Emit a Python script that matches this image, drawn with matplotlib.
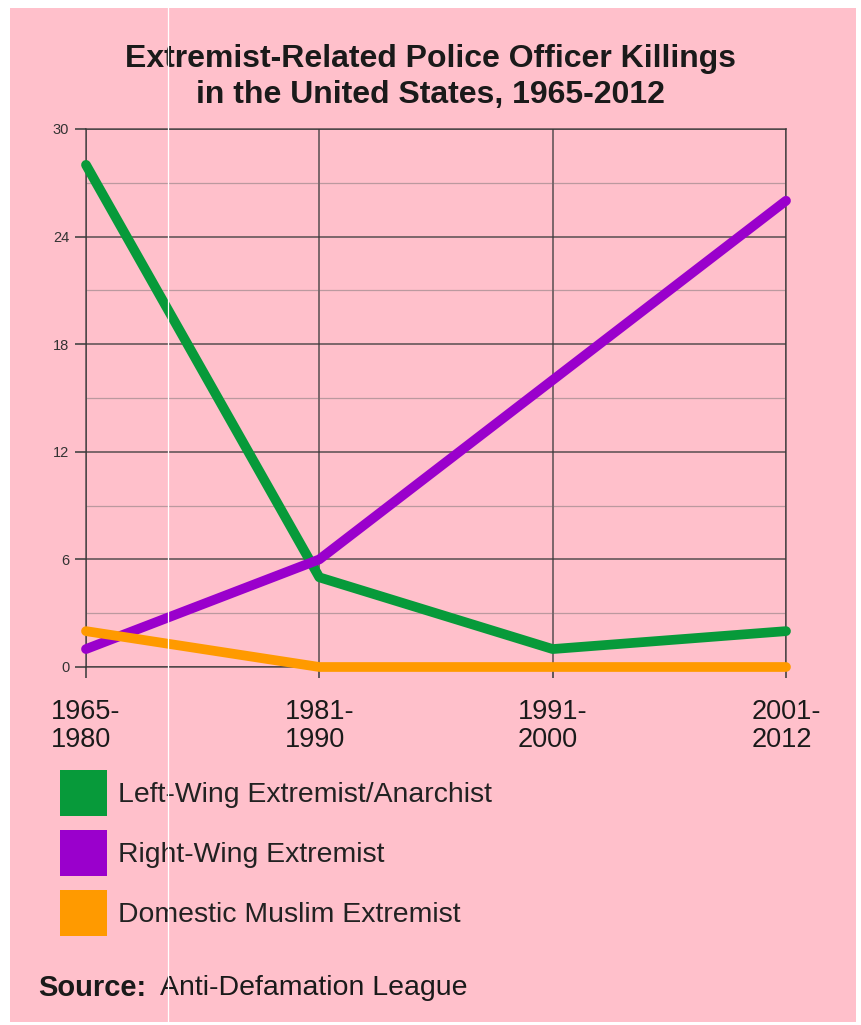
import matplotlib
matplotlib.use("Agg")
import matplotlib.pyplot as plt
from matplotlib.patches import Rectangle, Patch
from matplotlib.lines import Line2D
from matplotlib.ticker import MultipleLocator

periods = ["1965-\n1980", "1981-\n1990", "1991-\n2000", "2001-\n2012"]
left_wing = [28, 5, 1, 2]
right_wing = [1, 6, 16, 26]
muslim = [2, 0, 0, 0]
series_names = ["Left-Wing Extremist/Anarchist", "Right-Wing Extremist",
                "Domestic Muslim Extremist"]
series_colors = ["#079A3A", "#9A00CC", "#FF9A00"]
y_ticks = [0, 6, 12, 18, 24, 30]

plt.rcParams['font.family'] = ['Liberation Sans', 'DejaVu Sans']

fig = plt.figure(figsize=(8.61, 10.25), dpi=100)
fig.patch.set_facecolor('white')
# pink panel
W, H = 861, 1025
fig.add_artist(Rectangle((10 / W, 1 - 1022 / H), 846 / W, 1014 / H,
                         transform=fig.transFigure, facecolor='#FFC0CB',
                         edgecolor='none', zorder=0))

ax = fig.add_axes([86 / W, 1 - 667 / H, 700 / W, 538 / H])
ax.set_facecolor('none')

x = list(range(len(periods)))
for vals, name, col in zip([left_wing, right_wing, muslim], series_names, series_colors):
    ax.plot(x, vals, color=col, lw=7, solid_capstyle='round',
            solid_joinstyle='round', zorder=3, label=name, clip_on=False)

ax.set_xlim(0, 3)
ax.set_ylim(0, 30)
ax.set_yticks(y_ticks)
ax.yaxis.set_minor_locator(MultipleLocator(3))
ax.set_xticks(x)
ax.set_xticklabels(periods, fontsize=19.5, color='#1a1a1a', multialignment='left',
                   linespacing=1.1)
ax.tick_params(axis='y', labelsize=10.5, colors='#444444', length=8, width=1.2, pad=4)
ax.tick_params(axis='y', which='minor', length=0)
ax.tick_params(axis='x', length=8, width=1.2, color='#444444', pad=15)
for lbl in ax.get_yticklabels():
    lbl.set_color('#333333')

ax.grid(True, which='major', color='#3a3a3a', lw=1.1, alpha=0.85, zorder=1)
ax.grid(True, which='minor', axis='y', color='#6a6a6a', lw=0.9, alpha=0.45, zorder=1)
for s in ax.spines.values():
    s.set_color('#3a3a3a')
    s.set_linewidth(1.1)
    s.set_alpha(0.85)

fig.text(0.5, 1 - 59 / H, "Extremist-Related Police Officer Killings",
         ha='center', va='center', fontsize=23, fontweight='bold', color='#1a1a1a')
fig.text(0.5, 1 - 95 / H, "in the United States, 1965-2012",
         ha='center', va='center', fontsize=23, fontweight='bold', color='#1a1a1a')

handles = [Patch(facecolor=c, edgecolor='none') for c in series_colors]
fig.legend(handles, series_names, loc='upper left',
           bbox_to_anchor=(60 / W, 1 - 770 / H), bbox_transform=fig.transFigure,
           frameon=False, fontsize=20.4, handlelength=1.65, handleheight=2.12,
           handletextpad=0.39, labelspacing=0.5, borderpad=0, borderaxespad=0,
           labelcolor='#222222')

fig.text(38 / W, 1 - 988 / H, "Source:", ha='left', va='center', fontsize=21,
         fontweight='bold', color='#1a1a1a')
fig.text(160 / W, 1 - 988 / H, "Anti-Defamation League", ha='left', va='center',
         fontsize=20.5, color='#1a1a1a')

# white scan artifact line
fig.add_artist(Line2D([168 / W, 168 / W], [1 - 1022 / H, 1 - 8 / H],
                      transform=fig.transFigure, color='white', lw=0.9, zorder=10))

fig.savefig("out.png", dpi=100, facecolor=fig.get_facecolor())
